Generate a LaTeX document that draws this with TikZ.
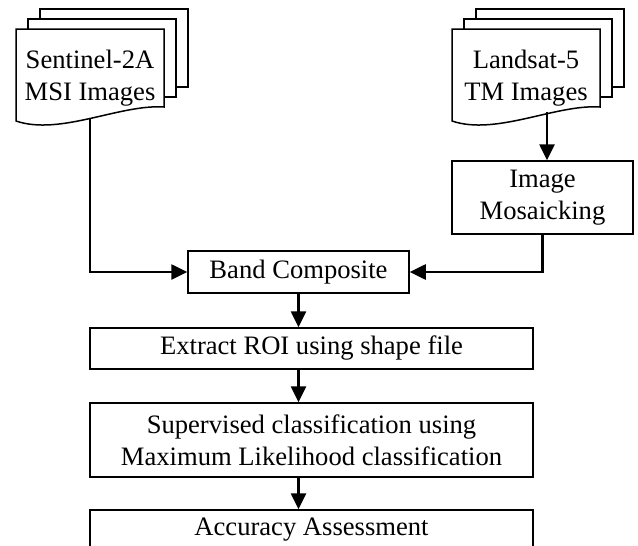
\documentclass[tikz,border=0pt]{standalone}
\usepackage{fontspec}
\setmainfont{Liberation Serif}
\usetikzlibrary{arrows.meta}
\newcommand{\dgfont}{\fontsize{26.6}{32}\selectfont}
\begin{document}
\begin{tikzpicture}[x=1pt,y=-1pt,
  box/.style={draw, line width=1.5pt, fill=white, inner sep=0pt, align=center, font=\dgfont},
  txt/.style={inner sep=0pt, align=center, font=\dgfont},
  conn/.style={line width=2.6pt, -{Triangle[length=16pt,width=15pt]}},
  page/.style={draw, line width=1.5pt, fill=white}]
\clip (0,0) rectangle (638,546);
\fill[white] (0,0) rectangle (638,546);
% left document stack
\draw[page] (40,9) rectangle (188,87);
\draw[page] (28,19) rectangle (176,97);
\draw[page] (16,29) -- (164,29) -- (164,107) .. controls (120,104) and (60,136) .. (16,121) -- cycle;
\node[txt] (sentinel) at (90,77.8) {Sentinel-2A\\MSI Images};
\coordinate (docLbot) at (90,119);
% right document stack
\draw[page] (476,9) rectangle (624,87);
\draw[page] (464,19) rectangle (612,97);
\draw[page] (452,29) -- (600,29) -- (600,107) .. controls (556,104) and (496,136) .. (452,121) -- cycle;
\node[txt] (landsat) at (526,77.8) {Landsat-5\\TM Images};
\coordinate (docRbot) at (547,112);
% boxes
\node[box, minimum width=181pt, minimum height=73pt] (mosaic) at (542.5,197.5) {Image\\Mosaicking};
\node[box, minimum width=221pt, minimum height=42pt] (band) at (298.5,272) {Band Composite};
\node[box, minimum width=443pt, minimum height=41pt] (extract) at (311.5,348.5) {Extract ROI using shape file};
\node[box, minimum width=443pt, minimum height=74pt] (supervised) at (311.5,440) {Supervised classification using\\Maximum Likelihood classification};
\node[box, minimum width=443pt, minimum height=40pt] (accuracy) at (311.5,530) {Accuracy Assessment};
% connectors
\draw[conn] (docLbot) |- (band.west);
\draw[conn] (docRbot) -- (docRbot |- mosaic.north);
\draw[conn] (mosaic.south) |- (band.east);
\draw[conn] (band.south) -- (band.south |- extract.north);
\draw[conn] (extract.south -| band.south) -- (band.south |- supervised.north);
\draw[conn] (supervised.south -| band.south) -- (band.south |- accuracy.north);
\end{tikzpicture}
\end{document}
